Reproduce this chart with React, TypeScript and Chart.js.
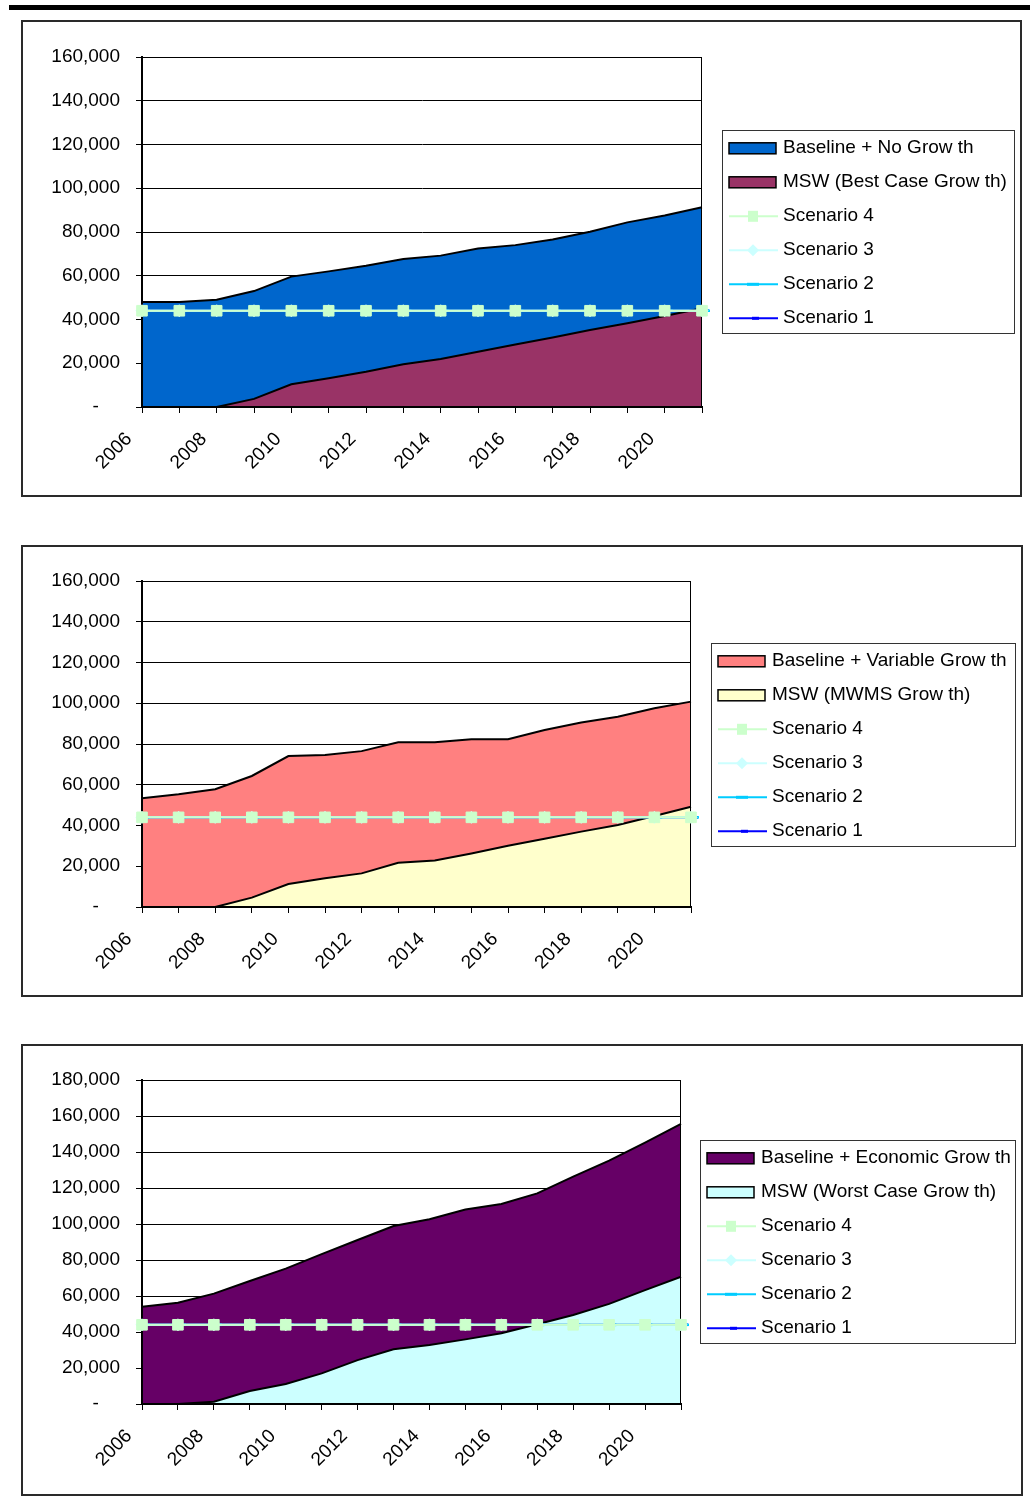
import React, { useEffect, useRef } from 'react';
import { Chart, registerables } from 'chart.js';

Chart.register(...registerables);

// Years on the category axis
const years = ['2006', '2007', '2008', '2009', '2010', '2011', '2012', '2013', '2014', '2015', '2016', '2017', '2018', '2019', '2020', '2021'];

// Panel 1: no growth
const baselineNoGrowth = [48000, 48000, 49000, 53000, 59600, 62000, 64600, 67700, 69200, 72500, 74000, 76600, 80100, 84400, 87500, 91300];
const mswBestCase = [0, 0, 0, 3700, 10400, 13100, 16100, 19500, 21900, 25300, 28600, 31800, 35200, 38300, 41600, 45100];

// Panel 2: variable growth
const baselineVariable = [53400, 55300, 57800, 64300, 74100, 74600, 76500, 80800, 80800, 82300, 82300, 86900, 90500, 93400, 97500, 100800];
const mswMwms = [0, 0, 0, 4600, 11300, 14100, 16500, 21700, 22800, 26300, 30100, 33500, 37000, 40200, 44700, 49200];

// Panel 3: economic growth
const baselineEconomic = [54000, 56300, 61300, 68300, 75200, 83300, 91100, 98900, 102600, 108100, 111100, 117000, 126300, 135200, 145200, 155600];
const mswWorstCase = [0, 0, 1300, 7200, 11100, 17000, 24400, 30400, 32800, 35900, 39300, 44300, 49400, 55600, 63300, 70700];

// Capacity scenarios
const scenario1 = [44000, 44000, 44000, 44000, 44000, 44000, 44000, 44000, 44000, 44000, 44000, 44000, 44000, 44000, 44000, 44000];
const scenario2 = [44000, 44000, 44000, 44000, 44000, 44000, 44000, 44000, 44000, 44000, 44000, 44000, 44000, 44000, 44000, 44000];
const scenario3 = [44000, 44000, 44000, 44000, 44000, 44000, 44000, 44000, 44000, 44000, 44000, 44000, 44000, 44000, 44000, 44000];
const scenario4 = [44000, 44000, 44000, 44000, 44000, 44000, 44000, 44000, 44000, 44000, 44000, 44000, 44000, 44000, 44000, 44000];

const FONT = '"Liberation Sans", Arial, Helvetica, sans-serif';

type Box = { left: number; top: number; right: number; bottom: number };

type PanelSpec = {
  x: number;
  y: number;
  w: number;
  h: number;
  plot: Box;
  legend: Box;
  yMax: number;
  baseLabel: string;
  baseColor: string;
  baseData: number[];
  mswLabel: string;
  mswColor: string;
  mswData: number[];
};

const panels: PanelSpec[] = [
  {
    x: 21, y: 20, w: 1001, h: 477,
    plot: { left: 121, top: 37, right: 681, bottom: 387 },
    legend: { left: 701, top: 110, right: 993, bottom: 313 },
    yMax: 160000,
    baseLabel: 'Baseline + No Grow th', baseColor: '#0066cc', baseData: baselineNoGrowth,
    mswLabel: 'MSW (Best Case Grow th)', mswColor: '#993366', mswData: mswBestCase,
  },
  {
    x: 21, y: 545, w: 1002, h: 452,
    plot: { left: 121, top: 36, right: 670, bottom: 362 },
    legend: { left: 690, top: 98, right: 994, bottom: 301 },
    yMax: 160000,
    baseLabel: 'Baseline + Variable Grow th', baseColor: '#ff8080', baseData: baselineVariable,
    mswLabel: 'MSW (MWMS Grow th)', mswColor: '#ffffcc', mswData: mswMwms,
  },
  {
    x: 21, y: 1044, w: 1002, h: 452,
    plot: { left: 121, top: 36, right: 660, bottom: 360 },
    legend: { left: 679, top: 96, right: 994, bottom: 299 },
    yMax: 180000,
    baseLabel: 'Baseline + Economic Grow th', baseColor: '#660066', baseData: baselineEconomic,
    mswLabel: 'MSW (Worst Case Grow th)', mswColor: '#ccffff', mswData: mswWorstCase,
  },
];

// Framed legend drawn on the canvas, one row per dataset
function makeLegendPlugin(box: Box) {
  return {
    id: 'framedLegend',
    afterDraw(chart: any) {
      const ctx: CanvasRenderingContext2D = chart.ctx;
      ctx.save();
      ctx.fillStyle = '#ffffff';
      ctx.fillRect(box.left, box.top, box.right - box.left, box.bottom - box.top);
      ctx.strokeStyle = '#333333';
      ctx.lineWidth = 1;
      ctx.strokeRect(box.left + 0.5, box.top + 0.5, box.right - box.left, box.bottom - box.top);
      const swX = box.left + 7;
      const textX = box.left + 61;
      ctx.font = `19px ${FONT}`;
      ctx.textBaseline = 'alphabetic';
      ctx.textAlign = 'left';
      chart.data.datasets.forEach((ds: any, i: number) => {
        const cy = box.top + 18.3 + 34 * i;
        if (ds.legendKind === 'area') {
          ctx.fillStyle = ds.backgroundColor;
          ctx.fillRect(swX, cy - 5.5, 47, 11);
          ctx.strokeStyle = '#000';
          ctx.lineWidth = 1.5;
          ctx.strokeRect(swX, cy - 5.5, 47, 11);
        } else {
          const col = ds.borderColor;
          ctx.strokeStyle = col;
          ctx.lineWidth = 2;
          ctx.beginPath();
          ctx.moveTo(swX, cy);
          ctx.lineTo(swX + 49, cy);
          ctx.stroke();
          const mx = swX + 24;
          ctx.fillStyle = col;
          if (ds.legendMarker === 'square') {
            ctx.fillRect(mx - 5, cy - 5.5, 10, 11);
          } else if (ds.legendMarker === 'diamond') {
            ctx.beginPath();
            ctx.moveTo(mx, cy - 6);
            ctx.lineTo(mx + 6, cy);
            ctx.lineTo(mx, cy + 6);
            ctx.lineTo(mx - 6, cy);
            ctx.closePath();
            ctx.fill();
          } else if (ds.legendMarker === 'dashLong') {
            ctx.fillRect(mx - 6, cy - 1.5, 12, 3);
          } else if (ds.legendMarker === 'dashShort') {
            ctx.fillRect(mx - 1, cy - 1.5, 7, 3);
          }
        }
        ctx.fillStyle = '#000';
        ctx.fillText(ds.label, textX, cy + 5);
      });
      ctx.restore();
    },
  };
}

// Plot-area frame, drawn after the areas so the scenario markers sit on top of it
const plotFramePlugin = {
  id: 'plotFrame',
  afterDatasetDraw(chart: any, args: any) {
    if (args.index !== 1) return;
    const { left, top, right, bottom } = chart.chartArea;
    const ctx: CanvasRenderingContext2D = chart.ctx;
    ctx.save();
    ctx.strokeStyle = '#000';
    ctx.lineWidth = 1;
    ctx.beginPath();
    ctx.moveTo(left, top + 0.5);
    ctx.lineTo(right, top + 0.5);
    ctx.moveTo(right - 0.5, top);
    ctx.lineTo(right - 0.5, bottom);
    ctx.stroke();
    ctx.lineWidth = 2;
    ctx.beginPath();
    ctx.moveTo(left, top);
    ctx.lineTo(left, bottom);
    ctx.lineTo(right, bottom);
    ctx.stroke();
    ctx.restore();
  },
};

function buildConfig(spec: PanelSpec): any {
  const areaDataset = (label: string, color: string, data: number[], order: number) => ({
    label,
    data,
    legendKind: 'area',
    backgroundColor: color,
    borderColor: '#000000',
    borderWidth: 2,
    fill: 'origin',
    pointRadius: 0,
    pointHoverRadius: 0,
    tension: 0,
    order,
  });
  const scenarioDataset = (label: string, color: string, data: number[], order: number, pointStyle: string, radius: number, legendMarker: string) => ({
    label,
    data,
    legendKind: 'line',
    legendMarker,
    borderColor: color,
    backgroundColor: color,
    borderWidth: 2,
    fill: false,
    pointStyle,
    pointRadius: radius,
    pointBackgroundColor: color,
    pointBorderColor: color,
    pointBorderWidth: pointStyle === 'dash' ? 2.5 : 1,
    tension: 0,
    clip: false,
    order,
  });

  return {
    type: 'line',
    data: {
      labels: years,
      datasets: [
        areaDataset(spec.baseLabel, spec.baseColor, spec.baseData, 6),
        areaDataset(spec.mswLabel, spec.mswColor, spec.mswData, 5),
        scenarioDataset('Scenario 4', '#ccffcc', scenario4, 1, 'rect', 7.5, 'square'),
        scenarioDataset('Scenario 3', '#ccffff', scenario3, 2, 'rectRot', 6, 'diamond'),
        scenarioDataset('Scenario 2', '#00ccff', scenario2, 3, 'dash', 8, 'dashLong'),
        scenarioDataset('Scenario 1', '#0000ff', scenario1, 4, 'dash', 7, 'dashShort'),
      ],
    },
    options: {
      responsive: false,
      animation: false,
      devicePixelRatio: 1,
      events: [],
      layout: {
        padding: {
          left: 0,
          top: spec.plot.top,
          right: spec.w - spec.plot.right,
          bottom: 0,
        },
      },
      plugins: {
        legend: { display: false },
        tooltip: { enabled: false },
        title: { display: false },
      },
      scales: {
        x: {
          type: 'category',
          offset: false,
          grid: {
            display: true,
            drawOnChartArea: false,
            drawTicks: true,
            tickLength: 6,
            color: '#000',
            lineWidth: 1,
          },
          border: { display: true, color: '#000', width: 2 },
          ticks: {
            autoSkip: false,
            maxRotation: 45,
            minRotation: 45,
            labelOffset: -13,
            padding: 15,
            color: '#000',
            font: { family: FONT, size: 19 },
            callback: (_v: any, i: number) => (i % 2 === 0 ? years[i] : ''),
          },
          afterFit: (scale: any) => {
            scale.height = spec.h - spec.plot.bottom;
          },
        },
        y: {
          type: 'linear',
          min: 0,
          max: spec.yMax,
          grid: {
            display: true,
            drawTicks: true,
            tickLength: 6,
            color: '#000',
            lineWidth: 1,
          },
          border: { display: true, color: '#000', width: 2 },
          ticks: {
            stepSize: 20000,
            padding: 16,
            color: '#000',
            font: { family: FONT, size: 19 },
            callback: (v: any) => (Number(v) === 0 ? '-    ' : Number(v).toLocaleString('en-US')),
          },
          afterFit: (scale: any) => {
            scale.width = spec.plot.left;
          },
        },
      },
    },
    plugins: [plotFramePlugin, makeLegendPlugin(spec.legend)],
  };
}

function Panel({ spec }: { spec: PanelSpec }) {
  const ref = useRef<HTMLCanvasElement>(null);
  useEffect(() => {
    if (!ref.current) return;
    const chart = new Chart(ref.current, buildConfig(spec));
    return () => chart.destroy();
  }, [spec]);
  return (
    <>
      <canvas
        ref={ref}
        width={spec.w}
        height={spec.h}
        style={{ position: 'absolute', left: spec.x, top: spec.y, width: spec.w, height: spec.h }}
      />
      <div
        style={{
          position: 'absolute',
          left: spec.x,
          top: spec.y,
          width: spec.w,
          height: spec.h,
          border: '2px solid #2a2a2a',
          boxSizing: 'border-box',
          pointerEvents: 'none',
        }}
      />
    </>
  );
}

export default function App() {
  return (
    <div style={{ position: 'absolute', left: 0, top: 0, width: 1030, height: 1503, background: '#fff' }}>
      <div style={{ position: 'absolute', left: 9, top: 5, width: 1021, height: 5, background: '#000' }} />
      {panels.map((p, i) => (
        <Panel key={i} spec={p} />
      ))}
    </div>
  );
}
